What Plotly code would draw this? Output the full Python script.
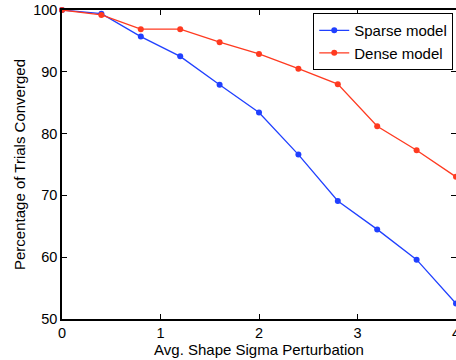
import plotly.graph_objects as go

x_vals = [0, 0.4, 0.8, 1.2, 1.6, 2.0, 2.4, 2.8, 3.2, 3.6, 4.0]
sparse = [100, 99.4, 95.7, 92.5, 87.9, 83.4, 76.6, 69.1, 64.5, 59.6, 52.5]
dense = [100, 99.2, 96.9, 96.9, 94.8, 92.9, 90.5, 88.0, 81.2, 77.3, 73.0]

FONT = "Liberation Sans, Arial, Helvetica, sans-serif"
BLUE = "#2040ff"
RED = "#ff3a20"

fig = go.Figure()
fig.add_trace(go.Scatter(x=x_vals, y=sparse, mode="lines+markers", name="Sparse model",
                         line=dict(color=BLUE, width=1.3),
                         marker=dict(color=BLUE, size=6), cliponaxis=False))
fig.add_trace(go.Scatter(x=x_vals, y=dense, mode="lines+markers", name="Dense model",
                         line=dict(color=RED, width=1.3),
                         marker=dict(color=RED, size=6), cliponaxis=False))

axis_common = dict(showline=True, linecolor="black", linewidth=1.5, mirror="ticks",
                   ticks="inside", ticklen=5, tickcolor="black", tickwidth=1,
                   showgrid=False, zeroline=False, automargin=False,
                   ticklabeloverflow="allow",
                   tickfont=dict(family=FONT, size=14.5, color="black"))

fig.update_xaxes(range=[0, 4], tickvals=[0, 1, 2, 3, 4],
                 title=dict(text="Avg. Shape Sigma Perturbation", font=dict(family=FONT, size=15, color="black"), standoff=0),
                 **axis_common)
fig.update_yaxes(range=[50, 100], tickvals=[50, 60, 70, 80, 90, 100],
                 title=dict(text="Percentage of Trials Converged", font=dict(family=FONT, size=15, color="black"), standoff=4),
                 **axis_common)

fig.update_layout(
    width=456, height=360,
    margin=dict(l=62, r=0, t=10, b=41),
    paper_bgcolor="white", plot_bgcolor="white",
    font=dict(family=FONT, size=15, color="black"),
    showlegend=True,
    legend=dict(x=0.993, y=0.99, xanchor="right", yanchor="top",
                bgcolor="white", bordercolor="black", borderwidth=1,
                font=dict(family=FONT, size=15, color="black"),
                tracegroupgap=0, itemwidth=30),
)

fig.write_html("out.html", config={"displayModeBar": False},
               post_script="document.body.style.margin='0';")
